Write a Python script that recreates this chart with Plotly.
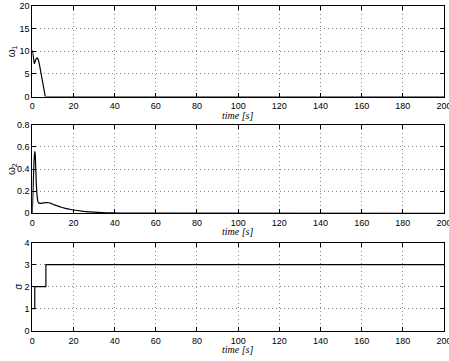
import plotly.graph_objects as go

# Panel 1: omega_1
t1 = [0, 0.5, 1.0, 1.5, 2.0, 2.5, 3.0, 3.5, 4.0, 4.5, 5.0, 5.5, 6.0, 6.3, 200]
w1 = [10.2, 8.6, 7.2, 7.9, 8.4, 8.5, 8.0, 7.0, 5.6, 4.1, 2.7, 1.4, 0.4, 0, 0]

# Panel 2: omega_2
t2 = [0, 0.5, 1.0, 1.3, 1.6, 2.0, 2.5, 3, 4, 5, 6, 7, 8, 9, 10, 12, 14, 16, 18, 20,
      24, 28, 32, 36, 40, 45, 200]
w2 = [0, 0.3, 0.52, 0.56, 0.45, 0.25, 0.13, 0.095, 0.09, 0.092, 0.095, 0.097, 0.095,
      0.09, 0.082, 0.068, 0.055, 0.045, 0.037, 0.03, 0.02, 0.013, 0.008, 0.005, 0.003,
      0.001, 0]

# Panel 3: sigma (switching signal)
t3 = [0, 1.2, 6.6, 200]
s3 = [1, 2, 3, 3]

y_ranges = [[0, 20], [0, 0.8], [0, 4]]
y_dticks = [5, 0.2, 1]
y_labels = ["ω<sub>1</sub>", "ω<sub>2</sub>", "σ"]
x_label = "time [s]"

W, H = 449, 361
x0, x1 = 32.3, 444.0
panels_px = [(6.0, 96.5), (124.7, 213.3), (242.7, 330.7)]

fig = go.Figure()
series = [(t1, w1, "linear"), (t2, w2, "spline"), (t3, s3, "hv")]
for i, (tx, ty, shape) in enumerate(series):
    sfx = "" if i == 0 else str(i + 1)
    fig.add_trace(go.Scatter(x=tx, y=ty, mode="lines",
                             line=dict(color="black", width=1.2, shape=shape),
                             xaxis="x" + sfx, yaxis="y" + sfx, showlegend=False))

tickfont = dict(family="Liberation Sans, Arial, sans-serif", size=9, color="black")
layout = dict(width=W, height=H, margin=dict(l=0, r=0, t=0, b=0, autoexpand=False),
              paper_bgcolor="white", plot_bgcolor="white", showlegend=False)
ann = []
for i, (top, bot) in enumerate(panels_px):
    sfx = "" if i == 0 else str(i + 1)
    dom_y = [1 - bot / H, 1 - top / H]
    ax_common = dict(showline=True, linecolor="black", linewidth=1, mirror="ticks",
                     ticks="inside", ticklen=4, tickcolor="black", tickwidth=1,
                     showgrid=True, gridcolor="#8a8a8a", griddash="1px,3px", gridwidth=1,
                     zeroline=False, tickfont=tickfont, automargin=False,
                     ticklabeloverflow="allow")
    layout["xaxis" + sfx] = dict(domain=[x0 / W, x1 / W], range=[0, 200], dtick=20,
                                 tick0=0, anchor="y" + sfx, ticklabelstandoff=1, **ax_common)
    layout["yaxis" + sfx] = dict(domain=dom_y, range=y_ranges[i], dtick=y_dticks[i],
                                 tick0=0, anchor="x" + sfx, **ax_common)
    ann.append(dict(text="<i>" + x_label + "</i>", x=(x0 + x1) / 2 / W,
                    y=1 - (bot + 18.5) / H,
                    xref="paper", yref="paper", showarrow=False,
                    font=dict(family="Liberation Serif, Times New Roman, serif",
                              size=10, color="black"),
                    xanchor="center", yanchor="middle"))
    ann.append(dict(text=y_labels[i], x=(12 if i < 2 else 19) / W,
                    y=1 - (top + bot) / 2 / H, xref="paper", yref="paper",
                    showarrow=False, textangle=-90,
                    font=dict(family="Liberation Sans, Arial, sans-serif", size=10,
                              color="black"),
                    xanchor="center", yanchor="middle"))
layout["annotations"] = ann
fig.update_layout(**layout)
fig.write_html("out.html", config={"displayModeBar": False},
               post_script="document.body.style.margin='0';document.body.style.overflow='hidden';")
